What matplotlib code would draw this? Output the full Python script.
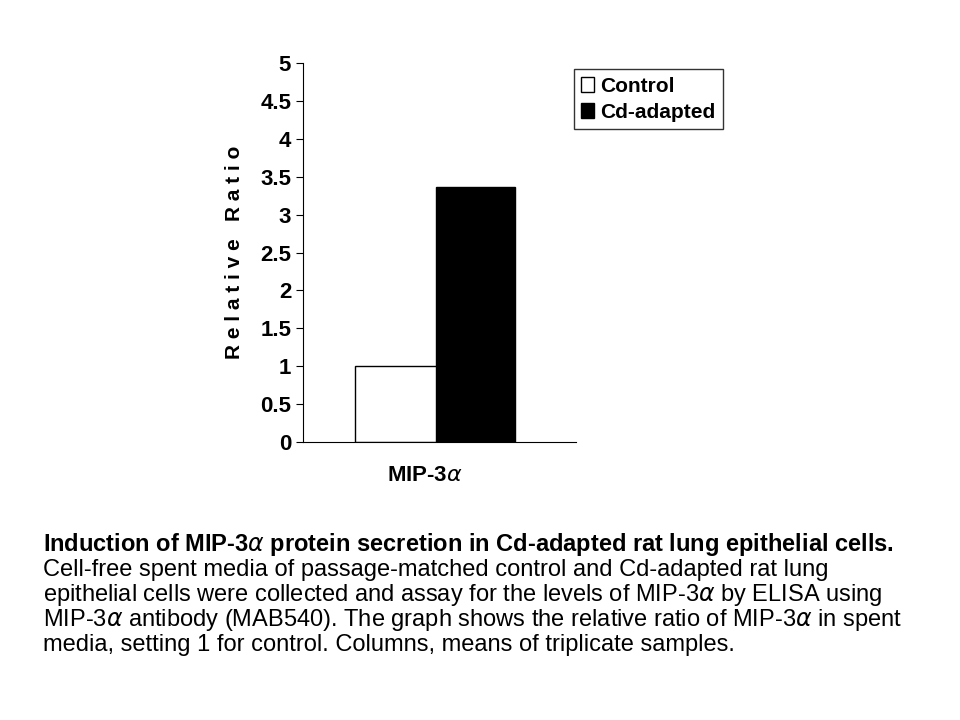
import matplotlib
matplotlib.use("Agg")
import matplotlib.pyplot as plt
from matplotlib.patches import Patch

categories = ["Control", "Cd-adapted"]
values = [1.0, 3.36]
colors = ["white", "black"]
yticks = [0, 0.5, 1, 1.5, 2, 2.5, 3, 3.5, 4, 4.5, 5]
ytick_labels = ["0", "0.5", "1", "1.5", "2", "2.5", "3", "3.5", "4", "4.5", "5"]
xlabel = r"MIP-3$\alpha$"

fam = ["Liberation Sans", "DejaVu Sans"]
fig = plt.figure(figsize=(9.6, 7.2), dpi=100)
ax = fig.add_axes([0.3156, 0.386, 0.2844, 0.5265])
xs = [0.34, 0.632]
ws = [0.30, 0.29]
for x, w, v, c in zip(xs, ws, values, colors):
    ax.bar(x, v, width=w, color=c, edgecolor="black", linewidth=1)
ax.set_xlim(0, 1)
ax.set_ylim(0, 5)
ax.set_yticks(yticks)
ax.set_yticklabels(ytick_labels, fontfamily=fam, fontweight="bold", fontsize=16)
ax.set_xticks([])
ax.spines["top"].set_visible(False)
ax.spines["right"].set_visible(False)
ax.tick_params(axis="y", length=5, direction="out")
ax.set_ylabel("R e l a t i v e   R a t i o", fontfamily=fam, fontweight="bold",
              fontsize=15, labelpad=12)
fig.text(0.4427, 0.34, xlabel, fontfamily=fam, fontweight="bold", fontsize=16, ha="center", va="center")

handles = [Patch(facecolor=c, edgecolor="black") for c in colors]
leg = fig.legend(handles, categories, loc="upper left", bbox_to_anchor=(0.587, 0.918),
                 prop={"family": fam, "weight": "bold", "size": 15}, frameon=True,
                 fancybox=False, edgecolor="black", handlelength=0.6, handletextpad=0.3,
                 borderpad=0.35, labelspacing=0.35)
leg.get_frame().set_linewidth(1)

lines = [
    (r"Induction of MIP-3$\alpha$ protein secretion in Cd-adapted rat lung epithelial cells.", "bold"),
    ("Cell-free spent media of passage-matched control and Cd-adapted rat lung", "normal"),
    (r"epithelial cells were collected and assay for the levels of MIP-3$\alpha$ by ELISA using", "normal"),
    (r"MIP-3$\alpha$ antibody (MAB540). The graph shows the relative ratio of MIP-3$\alpha$ in spent", "normal"),
    ("media, setting 1 for control. Columns, means of triplicate samples.", "normal"),
]
for i, (t, w) in enumerate(lines):
    fig.text(0.045, 1 - (545 + i * 25) / 720, t, fontfamily=fam,
             fontweight=w, fontsize=17, ha="left", va="center")

fig.savefig("out.png", dpi=100)
